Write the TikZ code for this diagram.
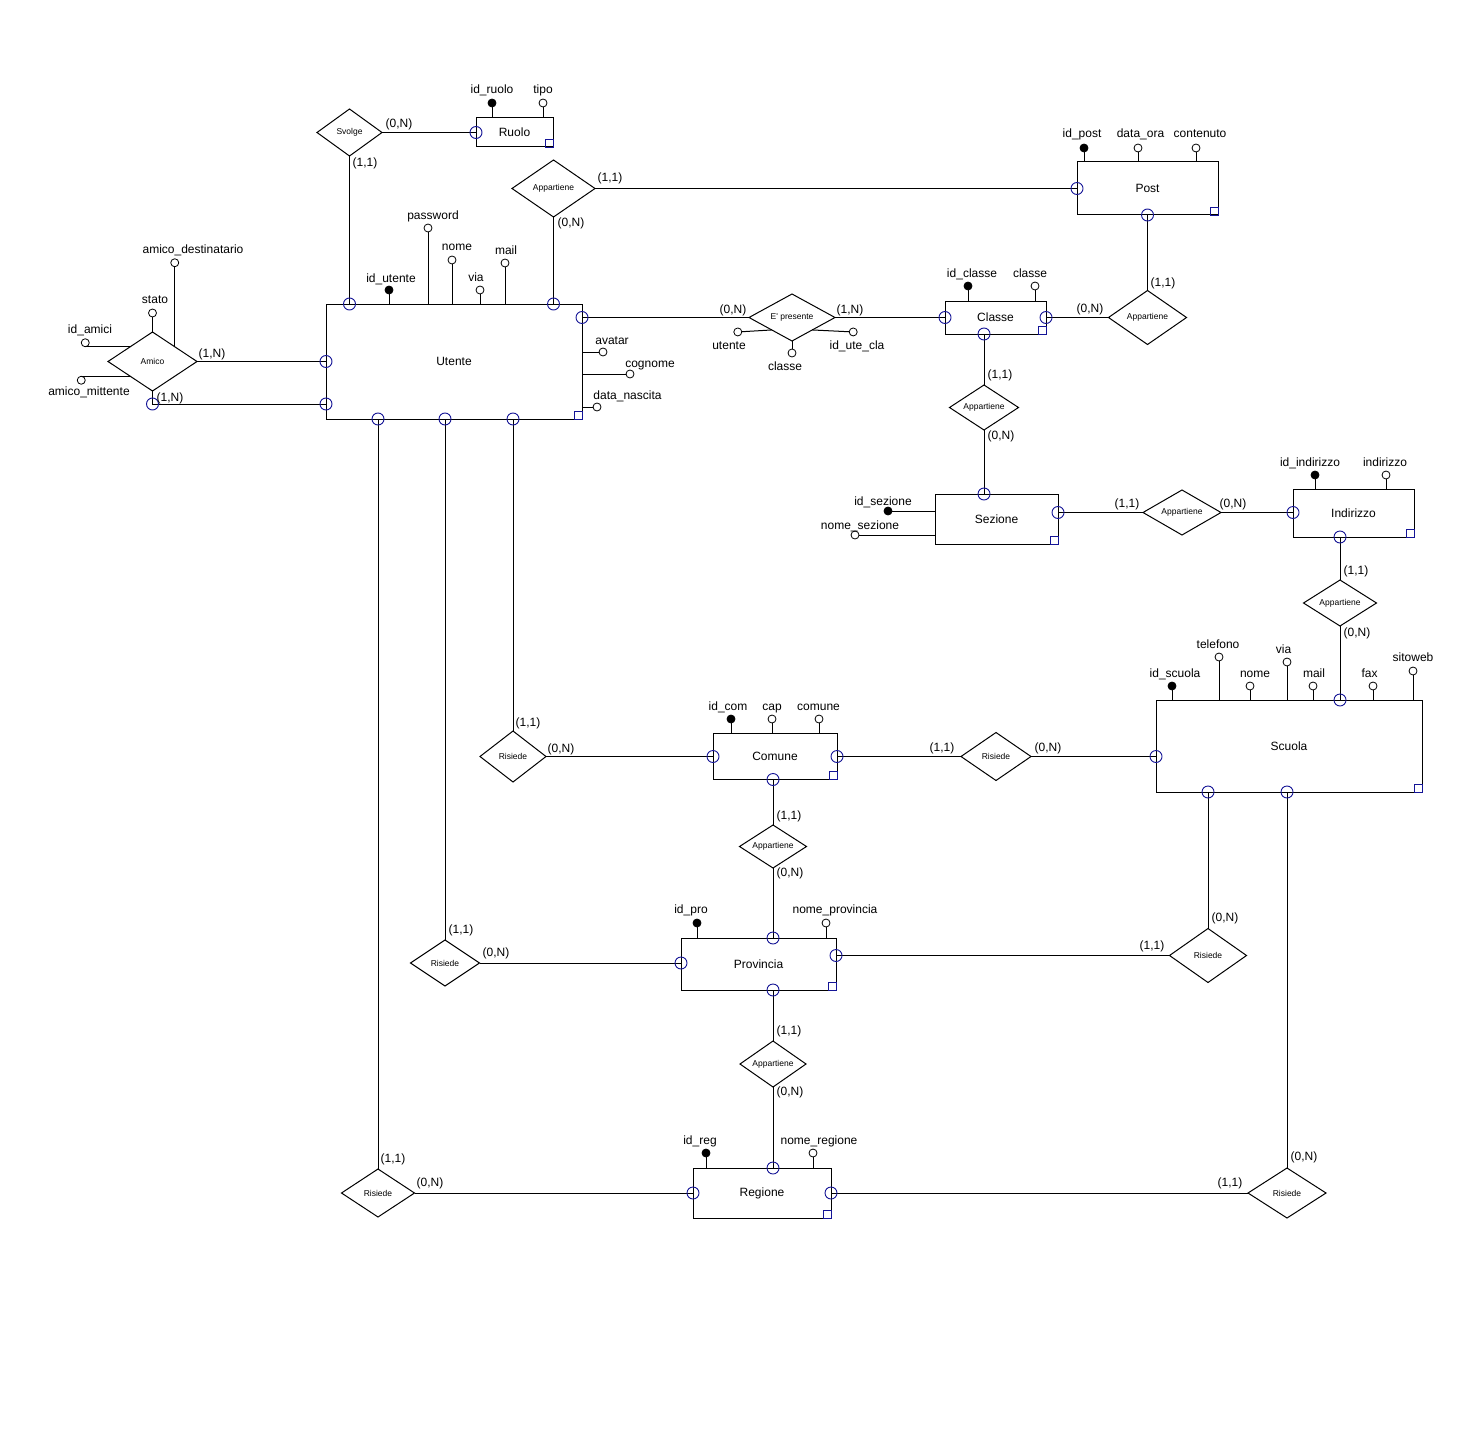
\documentclass[tikz,border=0pt]{standalone}
\usepackage{fontspec}
\setmainfont{Liberation Sans}
\usetikzlibrary{shapes.geometric,calc}
\definecolor{cmblue}{RGB}{20,20,150}
\newcommand\fnA{\fontsize{12}{14}\selectfont}
\newcommand\fnB{\fontsize{8.5}{10}\selectfont}
\begin{document}
\begin{tikzpicture}[x=1pt,y=-1pt, line width=1pt,
 ent/.style={draw, rectangle, inner sep=0, outer sep=0, font=\fnA},
 rel/.style={draw, diamond, inner sep=0, outer sep=0, aspect=1.5, font=\fnB},
 attr/.style={draw, circle, fill=white, minimum size=8, inner sep=0, outer sep=0, line width=0.8pt},
 key/.style={attr, fill=black},
 lbl/.style={font=\fnA, anchor=base, inner sep=0},
 connmark/.style={draw=cmblue, circle, minimum size=12, inner sep=0, line width=0.9pt}]
\fill[white] (0,0) rectangle (1472,1442);
\useasboundingbox (0,0) rectangle (1472,1442);

% ---------- entities ----------
\node[ent, minimum width=77,  minimum height=29]  (ruolo)     at (514.5,132.5) {Ruolo};
\node[ent, minimum width=256, minimum height=115] (utente)    at (454,361.5)   {Utente};
\node[ent, minimum width=141, minimum height=53]  (post)      at (1147.5,188.5){Post};
\node[ent, minimum width=101, minimum height=33]  (classe)    at (995.5,317.5) {Classe};
\node[ent, minimum width=123, minimum height=50]  (sezione)   at (996.5,519)   {Sezione};
\node[ent, minimum width=121, minimum height=48]  (indirizzo) at (1353.5,513)  {Indirizzo};
\node[ent, minimum width=266, minimum height=92]  (scuola)    at (1289,746)    {Scuola};
\node[ent, minimum width=124, minimum height=46]  (comune)    at (775,756.5)   {Comune};
\node[ent, minimum width=155, minimum height=52]  (provincia) at (758.5,964)   {Provincia};
\node[ent, minimum width=138, minimum height=50]  (regione)   at (762,1193)    {Regione};

\foreach \e in {ruolo,utente,post,classe,sezione,indirizzo,scuola,comune,provincia,regione}
  \draw[cmblue, line width=0.9pt] (\e.south east) rectangle ++(-8,-8);

% ---------- relationships ----------
\node[rel, minimum width=65, minimum height=47] (svolge) at (349.5,132.5) {Svolge};
\node[rel, minimum width=83, minimum height=57] (app1)   at (553.5,188.5) {Appartiene};
\node[rel, minimum width=86, minimum height=47] (epres)  at (792,317.5)   {E\textquotesingle{} presente};
\node[rel, minimum width=78, minimum height=54] (app2)   at (1147.5,317.5){Appartiene};
\node[rel, minimum width=69, minimum height=45] (app3)   at (984,407.5)   {Appartiene};
\node[rel, minimum width=78, minimum height=45] (app4)   at (1182,512.5)  {Appartiene};
\node[rel, minimum width=73, minimum height=46] (app5)   at (1340,603)    {Appartiene};
\node[rel, minimum width=89, minimum height=59] (amico)  at (152.5,361.5) {Amico};
\node[rel, minimum width=66, minimum height=51] (risUC)  at (513,756.5)   {Risiede};
\node[rel, minimum width=70, minimum height=48] (risCS)  at (996,756.5)   {Risiede};
\node[rel, minimum width=67, minimum height=43] (app6)   at (773,846.5)   {Appartiene};
\node[rel, minimum width=69, minimum height=46] (risUP)  at (445,963)     {Risiede};
\node[rel, minimum width=77, minimum height=54] (risPS)  at (1208,955.5)  {Risiede};
\node[rel, minimum width=66, minimum height=46] (app7)   at (773,1064)    {Appartiene};
\node[rel, minimum width=73, minimum height=48] (risUR)  at (378,1193)    {Risiede};
\node[rel, minimum width=78, minimum height=50] (risRS)  at (1287,1193)   {Risiede};

% ---------- connectors ----------
\draw (svolge.east) -- (ruolo.west) node[connmark]{};
\draw (svolge.south) -- (svolge.south |- utente.north) node[connmark]{};
\draw (app1.east) -- (app1.east -| post.west) node[connmark]{};
\draw (app1.south) -- (app1.south |- utente.north) node[connmark]{};
\draw (epres.west) -- (epres.west -| utente.east) node[connmark]{};
\draw (epres.east) -- (epres.east -| classe.west) node[connmark]{};
\draw (app2.north) -- (app2.north |- post.south) node[connmark]{};
\draw (app2.west) -- (app2.west -| classe.east) node[connmark]{};
\draw (app3.north) -- (app3.north |- classe.south) node[connmark]{};
\draw (app3.south) -- (app3.south |- sezione.north) node[connmark]{};
\draw (app4.west) -- (app4.west -| sezione.east) node[connmark]{};
\draw (app4.east) -- (app4.east -| indirizzo.west) node[connmark]{};
\draw (app5.north) -- (app5.north |- indirizzo.south) node[connmark]{};
\draw (app5.south) -- (app5.south |- scuola.north) node[connmark]{};
\draw (amico.east) -- (amico.east -| utente.west) node[connmark]{};
\coordinate (amb) at ($(amico.south)+(0,13)$);
\draw (amico.south) -- (amb) node[connmark]{} -- (amb -| utente.west) node[connmark]{};
\draw (risUC.north) -- (risUC.north |- utente.south) node[connmark]{};
\draw (risUC.east) -- (risUC.east -| comune.west) node[connmark]{};
\draw (risCS.west) -- (risCS.west -| comune.east) node[connmark]{};
\draw (risCS.east) -- (risCS.east -| scuola.west) node[connmark]{};
\draw (app6.north) -- (app6.north |- comune.south) node[connmark]{};
\draw (app6.south) -- (app6.south |- provincia.north) node[connmark]{};
\draw (risUP.north) -- (risUP.north |- utente.south) node[connmark]{};
\draw (risUP.east) -- (risUP.east -| provincia.west) node[connmark]{};
\draw (risPS.west) -- (risPS.west -| provincia.east) node[connmark]{};
\draw (risPS.north) -- (risPS.north |- scuola.south) node[connmark]{};
\draw (app7.north) -- (app7.north |- provincia.south) node[connmark]{};
\draw (app7.south) -- (app7.south |- regione.north) node[connmark]{};
\draw (risUR.north) -- (risUR.north |- utente.south) node[connmark]{};
\draw (risUR.east) -- (risUR.east -| regione.west) node[connmark]{};
\draw (risRS.west) -- (risRS.west -| regione.east) node[connmark]{};
\draw (risRS.north) -- (risRS.north |- scuola.south) node[connmark]{};

% ---------- cardinalities ----------
\foreach \cx/\cy/\tx in {
  399/128/{(0,N)}, 365/167/{(1,1)},
  610/182/{(1,1)}, 571/226/{(0,N)},
  733/313/{(0,N)}, 850/313/{(1,N)},
  1163/286/{(1,1)}, 1090/312/{(0,N)},
  1000/378/{(1,1)}, 1001/439/{(0,N)},
  1127/507/{(1,1)}, 1233/507/{(0,N)},
  1356/574/{(1,1)}, 1357/636/{(0,N)},
  942/751/{(1,1)}, 1048/751/{(0,N)},
  528/726/{(1,1)}, 561/752/{(0,N)},
  789/819/{(1,1)}, 790/876/{(0,N)},
  461/933/{(1,1)}, 496/956/{(0,N)},
  1152/949/{(1,1)}, 1225/921/{(0,N)},
  789/1034/{(1,1)}, 790/1095/{(0,N)},
  393/1162/{(1,1)}, 430/1186/{(0,N)},
  1230/1186/{(1,1)}, 1304/1160/{(0,N)},
  212/357/{(1,N)}, 170/401/{(1,N)}}
  \node[lbl] at (\cx,\cy) {\tx};

% ---------- attributes on top of entities ----------
\foreach \nm/\px/\py/\st/\lx/\ly/\tx/\en in {
  idruolo/492/103/key/492/94/id\_ruolo/ruolo,
  tipo/543/103/attr/543/94/tipo/ruolo,
  idutente/389/290/key/391/282/id\_utente/utente,
  password/428/228/attr/433/219/password/utente,
  unome/452/260/attr/457/251/nome/utente,
  uvia/480/290/attr/476/281/via/utente,
  umail/505/263/attr/506/254/mail/utente,
  idpost/1084/148/key/1082/138/id\_post/post,
  dataora/1138/148/attr/1140.5/138/data\_ora/post,
  contenuto/1196/148/attr/1200/138/contenuto/post,
  idclasse/968/286/key/972/277/id\_classe/classe,
  cclasse/1035/286/attr/1030/277/classe/classe,
  idind/1315/475/key/1310/466/id\_indirizzo/indirizzo,
  ind/1386/475/attr/1385/466/indirizzo/indirizzo,
  idscuola/1172/686/key/1175/677/id\_scuola/scuola,
  telefono/1219/657/attr/1218/648/telefono/scuola,
  snome/1250/686/attr/1255/677/nome/scuola,
  svia/1287/662/attr/1283.5/653/via/scuola,
  smail/1313/686/attr/1314/677/mail/scuola,
  fax/1373/686/attr/1369.5/677/fax/scuola,
  sitoweb/1413/671/attr/1413/661/sitoweb/scuola,
  idcom/731/719/key/728/710/id\_com/comune,
  cap/772/719/attr/772/710/cap/comune,
  ccomune/819/719/attr/818.5/710/comune/comune,
  idpro/697/923/key/691/913/id\_pro/provincia,
  nomepro/826/923/attr/835/913/nome\_provincia/provincia,
  idreg/706/1153/key/700/1144/id\_reg/regione,
  nomereg/813/1153/attr/819/1144/nome\_regione/regione}
{
  \node[\st] (a-\nm) at (\px,\py) {};
  \draw (a-\nm) -- (a-\nm |- \en.north);
  \node[lbl] at (\lx,\ly) {\tx};
}

% ---------- attributes at the side of entities ----------
\node[attr] (a-avatar) at (603,352) {};
\draw (a-avatar) -- (a-avatar -| utente.east);
\node[lbl] at (612,344) {avatar};
\node[attr] (a-cognome) at (630,374) {};
\draw (a-cognome) -- (a-cognome -| utente.east);
\node[lbl] at (650,367) {cognome};
\node[attr] (a-nascita) at (597,407) {};
\draw (a-nascita) -- (a-nascita -| utente.east);
\node[lbl] at (627.5,399) {data\_nascita};

\node[key] (a-idsez) at (888,511) {};
\draw (a-idsez) -- (a-idsez -| sezione.west);
\node[lbl] at (883,505) {id\_sezione};
\node[attr] (a-nomesez) at (855,535) {};
\draw (a-nomesez) -- (a-nomesez -| sezione.west);
\node[lbl] at (860,529) {nome\_sezione};

% ---------- attributes of relationships ----------
\coordinate (amNW) at ($(amico.west)!0.5!(amico.north)$);
\coordinate (amSW) at ($(amico.west)!0.5!(amico.south)$);
\coordinate (amNE) at ($(amico.north)!0.5!(amico.east)$);
\node[attr] (a-stato) at ($(amico.north)+(0,-19)$) {};
\draw (a-stato) -- (amico.north);
\node[lbl] at (155,303) {stato};
\node[attr] (a-dest) at ($(amNE)+(0,-84)$) {};
\draw (a-dest) -- (amNE);
\node[lbl] at (193,253) {amico\_destinatario};
\node[attr] (a-idamici) at ($(amNW)+(-45,-4)$) {};
\draw (a-idamici.south) -- (amNW);
\node[lbl] at (90,333) {id\_amici};
\node[attr] (a-mitt) at ($(amSW)+(-49,4)$) {};
\draw (a-mitt.north) -- (amSW);
\node[lbl] at (89,395) {amico\_mittente};

\coordinate (epWS) at ($(epres.west)!0.53!(epres.south)$);
\coordinate (epES) at ($(epres.east)!0.53!(epres.south)$);
\node[attr] (a-utente) at ($(epWS)+(-34,2)$) {};
\draw (a-utente) -- (epWS);
\node[lbl] at (729,349) {utente};
\node[attr] (a-eclasse) at ($(epres.south)+(0,12)$) {};
\draw (a-eclasse) -- (epres.south);
\node[lbl] at (785,370) {classe};
\node[attr] (a-iduc) at ($(epES)+(41,2)$) {};
\draw (a-iduc) -- (epES);
\node[lbl] at (857,349) {id\_ute\_cla};
\end{tikzpicture}
\end{document}
